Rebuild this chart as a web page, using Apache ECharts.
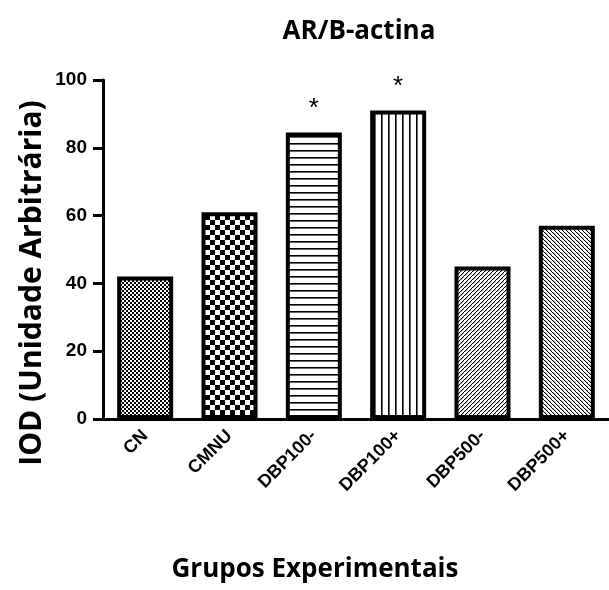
<!DOCTYPE html>
<html>
<head>
<meta charset="utf-8">
<script src="https://cdn.jsdelivr.net/npm/echarts@6/dist/echarts.min.js"></script>
<style>
  html, body { margin: 0; padding: 0; background: #fff; }
  #chart { width: 609px; height: 590px; }
</style>
</head>
<body>
<div id="chart"></div>
<script>
// data
var categories = ['CN', 'CMNU', 'DBP100-', 'DBP100+', 'DBP500-', 'DBP500+'];
var values = [42, 61, 84.5, 91, 45, 57];
var marks = ['', '', '*', '*', '', ''];
var patterns = ['dots', 'checker', 'hlines', 'vlines', 'fslash', 'bslash'];
var yTicks = [0, 20, 40, 60, 80, 100];

// build a small repeating canvas for each fill pattern
function makePattern(kind) {
    var c = document.createElement('canvas'), ctx, i;
    var size = { dots: 4, checker: 10, hlines: 7, vlines: 7, fslash: 4, bslash: 4 }[kind];
    c.width = c.height = size;
    ctx = c.getContext('2d');
    ctx.fillStyle = '#fff';
    ctx.fillRect(0, 0, size, size);
    ctx.fillStyle = '#000';
    if (kind === 'dots') {
        ctx.fillRect(0, 0, 2, 2);
        ctx.fillRect(2, 2, 2, 2);
    } else if (kind === 'checker') {
        ctx.fillRect(0, 0, 5, 5);
        ctx.fillRect(5, 5, 5, 5);
    } else if (kind === 'hlines') {
        ctx.fillRect(0, 3, size, 1.6);
    } else if (kind === 'vlines') {
        ctx.fillRect(3, 0, 1.6, size);
    } else {
        // one pixel diagonal, tiled
        for (i = 0; i < size; i++) {
            if (kind === 'fslash') ctx.fillRect(size - 1 - i, i, 1.3, 1);
            else ctx.fillRect(i, i, 1.3, 1);
        }
    }
    return { image: c, repeat: 'repeat' };
}

var chart = echarts.init(document.getElementById('chart'));

var seriesData = values.map(function (v, i) {
    return {
        value: v,
        itemStyle: { color: makePattern(patterns[i]) },
        label: { show: marks[i] !== '', formatter: marks[i] }
    };
});

var headFont = { fontFamily: 'Open Sans', fontWeight: 'bold', fontSize: 26, color: '#000' };

var option = {
    animation: false,
    backgroundColor: '#fff',
    title: [{
        text: 'AR/B-actina',
        left: 354, top: 14, textAlign: 'center',
        textStyle: headFont
    }, {
        text: 'Grupos Experimentais',
        left: 310, top: 552, textAlign: 'center',
        textStyle: headFont
    }],
    // y axis title sits lower than the axis middle in the original
    graphic: [{
        type: 'text',
        x: 32, y: 283,
        rotation: Math.PI / 2,
        style: {
            text: 'IOD (Unidade Arbitrária)',
            fontFamily: 'Open Sans', fontWeight: 'bold', fontSize: 30, fill: '#000',
            align: 'center', verticalAlign: 'middle'
        }
    }],
    grid: { left: 103, right: -6, top: 80, bottom: 171, containLabel: false },
    xAxis: {
        type: 'category',
        data: categories,
        axisLine: { lineStyle: { color: '#000', width: 3 } },
        axisTick: { alignWithLabel: true, length: 8, lineStyle: { color: '#000', width: 3 } },
        axisLabel: {
            rotate: 45, margin: 14, color: '#000',
            fontFamily: 'Liberation Sans', fontWeight: 'bold', fontSize: 18
        }
    },
    yAxis: {
        type: 'value',
        min: 0, max: 100, interval: 20,
        axisLine: { show: true, lineStyle: { color: '#000', width: 3 } },
        axisTick: { show: true, length: 10, lineStyle: { color: '#000', width: 3 } },
        axisLabel: {
            margin: 16, color: '#000',
            fontFamily: 'Liberation Sans', fontWeight: 'bold', fontSize: 19,
            formatter: function (v) { return yTicks.indexOf(v) >= 0 ? String(v) : ''; }
        },
        splitLine: { show: false }
    },
    series: [{
        type: 'bar',
        data: seriesData,
        barWidth: 56,
        itemStyle: { borderColor: '#000', borderWidth: 4 },
        label: {
            position: 'top', distance: 11, color: '#000',
            fontFamily: 'Liberation Sans', fontSize: 26
        }
    }]
};

chart.setOption(option);
</script>
</body>
</html>
